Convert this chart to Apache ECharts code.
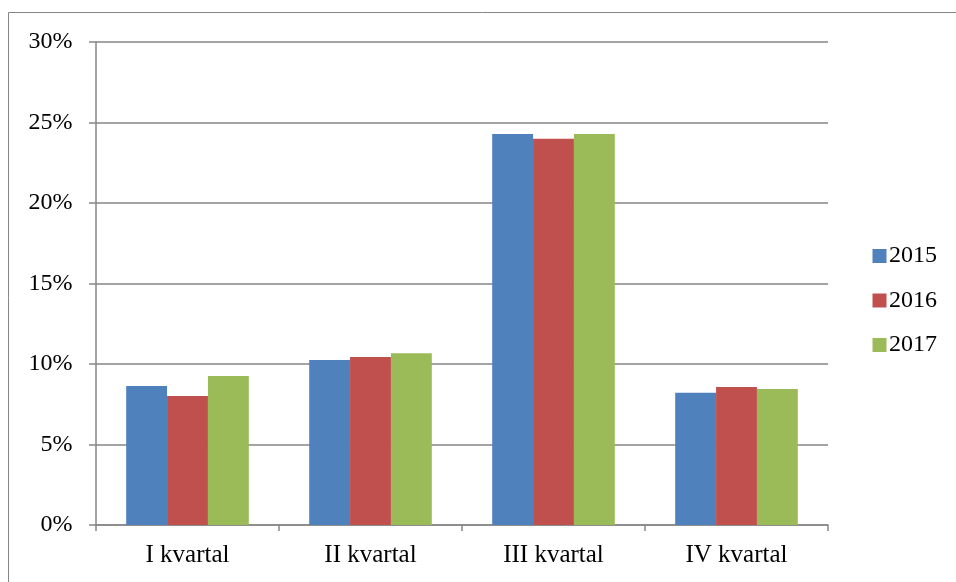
<!DOCTYPE html>
<html>
<head>
<meta charset="utf-8">
<script src="https://cdn.jsdelivr.net/npm/echarts@6/dist/echarts.min.js"></script>
<style>html,body{margin:0;padding:0;background:#fff;}#c{width:956px;height:582px;}</style>
</head>
<body>
<div id="c"></div>
<script>
const categories = ['I kvartal', 'II kvartal', 'III kvartal', 'IV kvartal'];
const seriesNames = ['2015', '2016', '2017'];
const values2015 = [8.63, 10.25, 24.28, 8.22];
const values2016 = [8.01, 10.43, 23.99, 8.57];
const values2017 = [9.25, 10.66, 24.28, 8.45];
const yTicks = [0, 5, 10, 15, 20, 25, 30];
const colors = ['#4F81BD', '#C0504D', '#9BBB59'];

const font = 'Liberation Serif, Times New Roman, serif';
const chart = echarts.init(document.getElementById('c'));
const data = [values2015, values2016, values2017];
chart.setOption({
  animation: false,
  backgroundColor: '#fff',
  graphic: [{
    type: 'rect', shape: {x: 8.5, y: 12.5, width: 960, height: 600},
    style: {fill: 'none', stroke: '#868686', lineWidth: 1}, silent: true, z: -1
  }],
  grid: {left: 96, top: 42, width: 732, height: 483},
  legend: {
    orient: 'vertical', left: 867.5, top: 239,
    itemWidth: 14, itemHeight: 14, itemGap: 20.5,
    icon: 'rect',
    textStyle: {fontFamily: font, fontSize: 24, color: '#000', padding: [0, 0, 0, -2.5]},
    data: seriesNames
  },
  xAxis: {
    type: 'category', data: categories,
    axisLine: {lineStyle: {color: '#868686', width: 1.5}},
    axisTick: {show: true, length: 6, alignWithLabel: false, lineStyle: {color: '#868686', width: 1.5}},
    axisLabel: {fontFamily: font, fontSize: 25, color: '#000', margin: 18}
  },
  yAxis: {
    type: 'value', min: yTicks[0], max: yTicks[yTicks.length-1], interval: 5,
    axisLine: {show: true, lineStyle: {color: '#868686', width: 1.5}},
    axisTick: {show: true, length: 7, lineStyle: {color: '#868686', width: 1.5}},
    splitLine: {lineStyle: {color: '#868686', width: 1.5}},
    axisLabel: {fontFamily: font, fontSize: 24, color: '#000', margin: 23.5, formatter: '{value}%'}
  },
  series: seriesNames.map((n, i) => ({
    name: n, type: 'bar', data: data[i],
    itemStyle: {color: colors[i]},
    barGap: '0%', barCategoryGap: '33%'
  }))
});
</script>
</body>
</html>
